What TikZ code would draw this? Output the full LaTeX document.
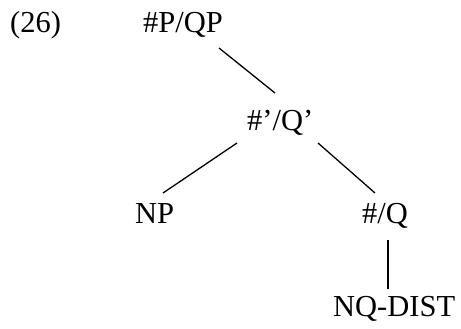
\documentclass[tikz,border=0pt]{standalone}
\usepackage{fontspec}
\setmainfont{Liberation Serif}
\begin{document}
\begin{tikzpicture}[x=1pt,y=-1pt,
  lbl/.style={anchor=base west,inner sep=0pt,font=\fontsize{30.5}{36}\selectfont},
  edge/.style={line width=1.3pt}]
\useasboundingbox (0,0) rectangle (461,329);
\node[lbl] (num) at (10,33) {(26)};
\node[lbl] (qp) at (143,33) {\#P/QP};
\node[lbl] (qbar) at (247,130) {\#’/Q’};
\node[lbl] (np) at (135,223) {NP};
\node[lbl] (q) at (362,223) {\#/Q};
\node[lbl] (nq) at (333,316) {NQ-DIST};
\coordinate (qpE) at (219,48);
\coordinate (qbarN) at (275,93);
\coordinate (qbarL) at (237,143);
\coordinate (npN) at (163,193);
\coordinate (qbarR) at (318,143);
\coordinate (qN) at (375,193);
\coordinate (qS) at (388,240);
\coordinate (nqN) at (388,289);
\draw[edge] (qpE) -- (qbarN);
\draw[edge] (qbarL) -- (npN);
\draw[edge] (qbarR) -- (qN);
\draw[edge] (qS) -- (nqN);
\end{tikzpicture}
\end{document}
